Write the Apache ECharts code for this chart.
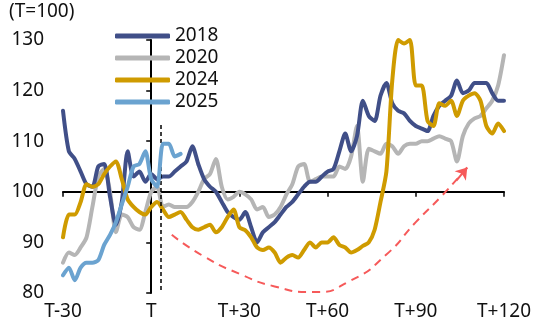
<!DOCTYPE html>
<html>
<head>
<meta charset="utf-8">
<script src="https://cdn.jsdelivr.net/npm/echarts@6/dist/echarts.min.js"></script>
<style>
  html, body { margin: 0; padding: 0; background: #fff; }
  #chart { width: 544px; height: 329px; }
</style>
</head>
<body>
<div id="chart"></div>
<script>
// x: days from T (2-day steps), values indexed T = 100
const days = [-30, -28, -26, -24, -22, -20, -18, -16, -14, -12, -10, -8, -6, -4, -2,
  0, 2, 4, 6, 8, 10, 12, 14, 16, 18, 20, 22, 24, 26, 28,
  30, 32, 34, 36, 38, 40, 42, 44, 46, 48, 50, 52, 54, 56, 58,
  60, 62, 64, 66, 68, 70, 72, 74, 76, 78, 80, 82, 84, 86, 88,
  90, 92, 94, 96, 98, 100, 102, 104, 106, 108, 110, 112, 114, 116, 118, 120];

const s2018 = [116, 108, 106.5, 104, 101.5, 101, 105, 105.5, 99, 93.5, 98, 108, 103, 104, 102,
  103.5, 102.5, 103, 103, 104, 105, 106, 109, 105.5, 102.5, 101, 100, 98, 96, 95,
  94.5, 96, 93, 90, 92, 93, 94, 95.5, 97, 98, 99.5, 101, 102, 102, 103,
  104, 104.5, 108, 111.5, 108, 111, 118, 115, 114, 119, 121.5, 117.5, 116, 115.5, 114,
  113, 112.5, 112, 115, 117, 118, 119, 122, 119.5, 120, 121.5, 121.5, 121.5, 119.5, 118, 118];

const s2020 = [86, 88, 87.5, 89, 91, 97, 103, 104.5, 100, 92, 95.5, 95, 93, 92.5, 96,
  100, 101, 97, 97.5, 97, 97, 97, 98, 100, 102.5, 103.5, 106.5, 101, 98.5, 99,
  100, 99.5, 98.5, 96.5, 97, 95, 95.5, 97, 99.5, 101.5, 105, 105.5, 102, 102.5, 103,
  103, 103, 105, 104.5, 107, 113, 102, 108.5, 108, 107.5, 109.5, 109, 107.5, 109, 109.5,
  109.5, 110, 110, 110.5, 111, 110.5, 110, 106, 111, 113.5, 114.5, 115, 116.5, 118, 121, 127];

const s2024 = [91, 95.5, 95.5, 98, 101.5, 101, 101.5, 103.5, 105, 106, 102.5, 98.5, 97, 96, 95.5,
  97, 98, 96.5, 95, 95.5, 96, 94.5, 93, 92.5, 93, 93.5, 92, 93, 95, 96.5,
  93, 92.4, 91, 89, 88.5, 89, 88, 86, 87, 87.5, 87, 88.5, 90, 89, 90,
  90, 91, 89.5, 89, 88, 88.5, 89.3, 90, 92.5, 98, 104, 122, 130, 129.3, 130,
  121, 121, 114, 113, 117.5, 117, 118, 115, 118, 119, 119.5, 118, 113, 111.5, 113.5, 112];

const s2025 = [83.5, 85, 82.5, 85, 86, 86, 86.5, 89.5, 91.5, 94, 97.5, 101, 105, 105.5, 108,
  102.5, 101, 109.5, 109.5, 107, 107.5];

// red dashed guide curve
const arrowDays = [7, 18, 30, 42, 55, 68, 80, 90, 99, 107.5];
const arrowVals = [91.5, 87.2, 83.8, 81.3, 80.2, 82.5, 87.6, 94, 99.3, 104.8];

const xTickLabels = ['T-30', 'T', 'T+30', 'T+60', 'T+90', 'T+120'];
const markDay = 3.3;

const names = ['2018', '2020', '2024', '2025'];
const colors = { '2018': '#404F88', '2020': '#B5B5B5', '2024': '#CF9B00', '2025': '#6BA3D0' };

const FONT = "'Noto Sans', sans-serif";
const myChart = echarts.init(document.getElementById('chart'));

function pairs(vals) {
  return vals.map((v, i) => [days[i], v]);
}
function lineSeries(name, vals, z) {
  return {
    name: name,
    type: 'line',
    data: pairs(vals),
    smooth: 0.25,
    symbol: 'none',
    z: z,
    lineStyle: { width: 4, color: colors[name], cap: 'round', join: 'round' },
    itemStyle: { color: colors[name] }
  };
}

const option = {
  animation: false,
  textStyle: { fontFamily: FONT },
  title: {
    text: '(T=100)',
    left: 4,
    top: -3,
    textStyle: { fontSize: 19, fontWeight: 'normal', color: '#111', fontFamily: FONT }
  },
  legend: {
    data: names,
    orient: 'vertical',
    left: 110,
    top: 21,
    icon: 'roundRect',
    itemWidth: 55,
    itemHeight: 5,
    itemGap: 2,
    textStyle: { fontSize: 19, color: '#111', lineHeight: 20, fontFamily: FONT }
  },
  grid: { left: 63, right: 40, top: 40, bottom: 36 },
  xAxis: [
    {
      type: 'value',
      min: -30,
      max: 120,
      interval: 30,
      axisLine: { show: false },
      axisTick: { show: false },
      splitLine: { show: false },
      axisLabel: {
        fontSize: 19,
        color: '#111',
        margin: 9,
        formatter: v => xTickLabels[Math.round((v + 30) / 30)]
      }
    },
    {
      // horizontal base line at 100, ticks hanging down
      type: 'value',
      position: 'bottom',
      offset: -101.2,
      min: -30,
      max: 120,
      interval: 30,
      axisLine: { show: true, lineStyle: { color: '#000', width: 2 } },
      axisTick: { show: true, length: 5, lineStyle: { color: '#000', width: 1.5 } },
      axisLabel: { show: false },
      splitLine: { show: false }
    }
  ],
  yAxis: {
    type: 'value',
    min: 80,
    max: 130,
    interval: 10,
    axisLine: { show: true, lineStyle: { color: '#000', width: 2 } },
    axisTick: { show: true, length: 5, lineStyle: { color: '#000', width: 1.5 } },
    splitLine: { show: false },
    axisLabel: { fontSize: 19, color: '#111', margin: 19 }
  },
  series: [
    lineSeries('2020', s2020, 2),
    lineSeries('2018', s2018, 3),
    lineSeries('2024', s2024, 4),
    lineSeries('2025', s2025, 5),
    {
      name: 'guide',
      type: 'line',
      data: arrowDays.map((d, i) => [d, arrowVals[i]]),
      smooth: 0.6,
      symbol: 'none',
      z: 6,
      lineStyle: { width: 2, color: '#F65A5A', type: [8, 6] },
      markLine: {
        silent: true,
        symbol: ['none', 'arrow'],
        symbolSize: 11,
        label: { show: false },
        lineStyle: { width: 2, color: '#F65A5A', type: 'solid' },
        data: [[{ coord: [103.8, 102.2] }, { coord: [107.5, 104.8] }]]
      }
    },
    {
      name: 'mark',
      type: 'line',
      data: [],
      markLine: {
        silent: true,
        symbol: ['none', 'none'],
        label: { show: false },
        lineStyle: { width: 1.5, color: '#000', type: [4, 3] },
        data: [[{ coord: [markDay, 113.2] }, { coord: [markDay, 80] }]]
      }
    }
  ]
};

myChart.setOption(option, true);
window.addEventListener('resize', function () {
  myChart.resize();
});
</script>
</body>
</html>
